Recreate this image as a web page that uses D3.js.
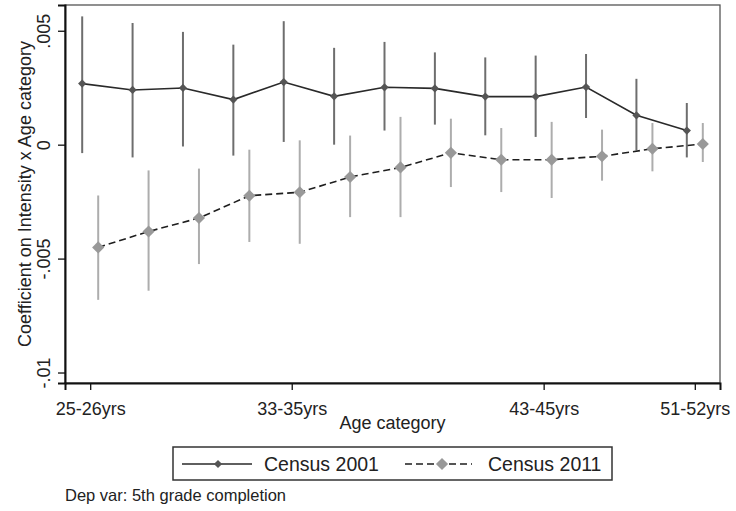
<!DOCTYPE html>
<html>
<head>
<meta charset="utf-8">
<script src="https://cdn.jsdelivr.net/npm/d3@7"></script>
<style>
  html, body { margin: 0; padding: 0; background: #fff; }
  svg { display: block; font-family: "Liberation Sans", Arial, sans-serif; }
</style>
</head>
<body>
<svg id="chart" width="736" height="511"></svg>
<script>
// ---- data ----
const categories = ["25-26yrs","27-28yrs","29-30yrs","31-32yrs","33-35yrs","36-37yrs","38-39yrs",
                    "40-41yrs","42yrs","43-45yrs","46-47yrs","48-50yrs","51-52yrs"];
const xTickLabels = ["25-26yrs","33-35yrs","43-45yrs","51-52yrs"];
const yTickValues = [-0.01, -0.005, 0, 0.005];

const census2001 = [0.00268,0.00240,0.00249,0.00198,0.00275,0.00212,0.00252,0.00247,0.00211,0.00211,0.00253,0.00129,0.00062];
const census2001Hi = [0.00563,0.00534,0.00495,0.00439,0.00542,0.00425,0.00451,0.00405,0.00383,0.00391,0.00398,0.00289,0.00183];
const census2001Lo = [-0.00037,-0.00056,-0.00008,-0.00048,0.00012,0.00000,0.00062,0.00088,0.00041,0.00034,0.00117,-0.00025,-0.00056];

const census2011 = [-0.00451,-0.00381,-0.00322,-0.00224,-0.00209,-0.00142,-0.00100,-0.00036,-0.00066,-0.00066,-0.00051,-0.00018,0.00003];
const census2011Hi = [-0.00223,-0.00113,-0.00105,-0.00022,0.00019,0.00040,0.00122,0.00114,0.00073,0.00100,0.00066,0.00095,0.00095];
const census2011Lo = [-0.00681,-0.00641,-0.00524,-0.00427,-0.00435,-0.00318,-0.00318,-0.00186,-0.00208,-0.00234,-0.00158,-0.00117,-0.00076];

const seriesNames = ["Census 2001", "Census 2011"];

// ---- layout ----
const svg = d3.select("#chart");
const pL = 65, pR = 720, pT = 5, pB = 383;

const x = d3.scalePoint().domain(categories).range([pL, pR]).padding(0.5);
const y = d3.scaleLinear().domain([-0.01046, 0.00613]).range([pB, pT]);
const off = 8;

const fmt = v => v === 0 ? "0" : String(v).replace("0.", ".");
const diamondPath = size => d3.symbol().type(d3.symbolSquare).size(size)();

// frame
svg.append("rect").attr("x", pL).attr("y", pT).attr("width", pR - pL).attr("height", pB - pT)
  .attr("fill", "none").attr("stroke", "#555").attr("stroke-width", 1.3);

// axes
const yAxis = d3.axisLeft(y).tickValues(yTickValues).tickFormat(fmt).tickSize(7).tickPadding(3);
const gy = svg.append("g").attr("transform", `translate(${pL},0)`).call(yAxis);
gy.select(".domain").attr("stroke", "#111").attr("stroke-width", 2);
gy.selectAll(".tick line").attr("stroke", "#111").attr("stroke-width", 1.3);
gy.selectAll(".tick text")
  .attr("font-size", 18).attr("fill", "#222")
  .attr("text-anchor", "middle")
  .attr("x", 0).attr("y", 0).attr("dy", 0)
  .attr("transform", `translate(${49.5 - pL},0) rotate(-90)`);

const xAxis = d3.axisBottom(x).tickValues(xTickLabels).tickSize(7).tickPadding(4);
const gx = svg.append("g").attr("transform", `translate(0,${pB})`).call(xAxis);
gx.select(".domain").attr("stroke", "#111").attr("stroke-width", 2);
gx.selectAll(".tick line").attr("stroke", "#111").attr("stroke-width", 1.3);
gx.selectAll(".tick text").attr("font-size", 18).attr("fill", "#222").attr("dy", 0).attr("y", 32);

// axis titles
svg.append("text").attr("x", (pL + pR) / 2).attr("y", 429).attr("text-anchor", "middle")
  .attr("font-size", 18).attr("fill", "#222").text("Age category");
svg.append("text").attr("transform", `translate(30.5,${(pT + pB) / 2}) rotate(-90)`)
  .attr("text-anchor", "middle").attr("font-size", 18).attr("fill", "#222")
  .text("Coefficient on Intensity x Age category");

// series
function drawSeries(vals, lo, hi, dx, opts) {
  const g = svg.append("g");
  g.selectAll("line.err").data(categories).join("line")
    .attr("x1", c => x(c) + dx).attr("x2", c => x(c) + dx)
    .attr("y1", (c, i) => y(lo[i])).attr("y2", (c, i) => y(hi[i]))
    .attr("stroke", opts.errColor).attr("stroke-width", 2);
  const line = d3.line().x((d, i) => x(categories[i]) + dx).y(d => y(d));
  g.append("path").datum(vals).attr("d", line).attr("fill", "none")
    .attr("stroke", opts.lineColor).attr("stroke-width", 1.6)
    .attr("stroke-dasharray", opts.dash || null);
  g.selectAll("path.pt").data(vals).join("path")
    .attr("transform", (d, i) => `translate(${x(categories[i]) + dx},${y(d)}) rotate(45)`)
    .attr("d", diamondPath(opts.size))
    .attr("fill", opts.markColor);
}
drawSeries(census2001, census2001Lo, census2001Hi, -off,
  { errColor: "#6e6e6e", lineColor: "#2a2a2a", markColor: "#555", size: 34 });
drawSeries(census2011, census2011Lo, census2011Hi, off,
  { errColor: "#adadad", lineColor: "#1e1e1e", markColor: "#999", size: 74, dash: "7,4" });

// legend
const lg = svg.append("g");
lg.append("rect").attr("x", 173).attr("y", 447).attr("width", 439).attr("height", 33)
  .attr("fill", "#fff").attr("stroke", "#333").attr("stroke-width", 1.5);
lg.append("line").attr("x1", 182).attr("x2", 252).attr("y1", 464).attr("y2", 464)
  .attr("stroke", "#2a2a2a").attr("stroke-width", 1.6);
lg.append("path").attr("transform", "translate(218,464) rotate(45)")
  .attr("d", diamondPath(34)).attr("fill", "#555");
lg.append("text").attr("x", 264).attr("y", 471).attr("font-size", 19.5).attr("fill", "#222").text(seriesNames[0]);
lg.append("line").attr("x1", 405).attr("x2", 472).attr("y1", 464).attr("y2", 464)
  .attr("stroke", "#1e1e1e").attr("stroke-width", 1.6).attr("stroke-dasharray", "7,4");
lg.append("path").attr("transform", "translate(442,464) rotate(45)")
  .attr("d", diamondPath(74)).attr("fill", "#999");
lg.append("text").attr("x", 488).attr("y", 471).attr("font-size", 19.5).attr("fill", "#222").text(seriesNames[1]);

// note
svg.append("text").attr("x", 65).attr("y", 501).attr("font-size", 16.5).attr("fill", "#222")
  .text("Dep var: 5th grade completion");
</script>
</body>
</html>
